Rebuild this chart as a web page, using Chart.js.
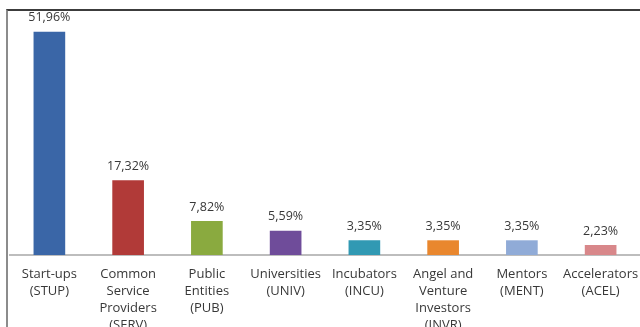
<!DOCTYPE html>
<html>
<head>
<meta charset="utf-8">
<script src="https://cdn.jsdelivr.net/npm/chart.js@4.4.1/dist/chart.umd.min.js"></script>
<style>
  html, body { margin: 0; padding: 0; background: #ffffff; overflow: hidden; }
  #wrap { position: relative; width: 640px; height: 327px; }
  #frame {
    position: absolute; left: 6px; top: 9px; width: 700px; height: 400px;
    border-left: 2px solid #8c8c8c; border-top: 2px solid #3c3c3c;
    box-sizing: border-box; pointer-events: none;
  }
  canvas { position: absolute; left: 0; top: 0; }
</style>
</head>
<body>
<div id="wrap">
  <canvas id="chart" width="640" height="327"></canvas>
  <div id="frame"></div>
</div>
<script>
// Share of actors in the ecosystem (%)
const categories = [
  ['Start-ups', '(STUP)'],
  ['Common', 'Service', 'Providers', '(SERV)'],
  ['Public', 'Entities', '(PUB)'],
  ['Universities', '(UNIV)'],
  ['Incubators', '(INCU)'],
  ['Angel and', 'Venture', 'Investors', '(INVR)'],
  ['Mentors', '(MENT)'],
  ['Accelerators', '(ACEL)']
];
const shares = [51.96, 17.32, 7.82, 5.59, 3.35, 3.35, 3.35, 2.23];
const barColors = ['#3a66a7', '#b13a38', '#8aaa3f', '#6f4c9a', '#3199b3', '#e9872e', '#90abd7', '#d8878a'];

const FONT = '"Open Sans", Lato, sans-serif';
const TEXT = '#383838';

const valueLabels = {
  id: 'valueLabels',
  afterDatasetsDraw(chart) {
    const ctx = chart.ctx;
    const meta = chart.getDatasetMeta(0);
    ctx.save();
    ctx.font = '12.5px ' + FONT;
    ctx.fillStyle = TEXT;
    ctx.textAlign = 'center';
    ctx.textBaseline = 'bottom';
    meta.data.forEach((bar, i) => {
      const txt = shares[i].toFixed(2).replace('.', ',') + '%';
      ctx.fillText(txt, bar.x, bar.y - 8);
    });
    ctx.restore();
  }
};

new Chart(document.getElementById('chart'), {
  type: 'bar',
  data: {
    labels: categories,
    datasets: [{
      data: shares,
      backgroundColor: barColors,
      borderWidth: 0,
      barThickness: 31
    }]
  },
  options: {
    responsive: false,
    animation: false,
    events: [],
    layout: { padding: { left: 10, right: 0, top: 19, bottom: 0 } },
    plugins: { legend: { display: false }, tooltip: { enabled: false } },
    scales: {
      x: {
        grid: { display: false, drawTicks: false },
        border: { display: true, color: '#bdbdbd', width: 2 },
        ticks: {
          autoSkip: false, maxRotation: 0, minRotation: 0,
          color: TEXT, padding: 11,
          font: { family: FONT, size: 13, lineHeight: 1.3 }
        },
        afterFit(scale) {
          scale.height = 72;
          scale.paddingLeft = 0;
          scale.paddingRight = 0;
        }
      },
      y: { display: false, min: 0, max: 55 }
    }
  },
  plugins: [valueLabels]
});
</script>
</body>
</html>
